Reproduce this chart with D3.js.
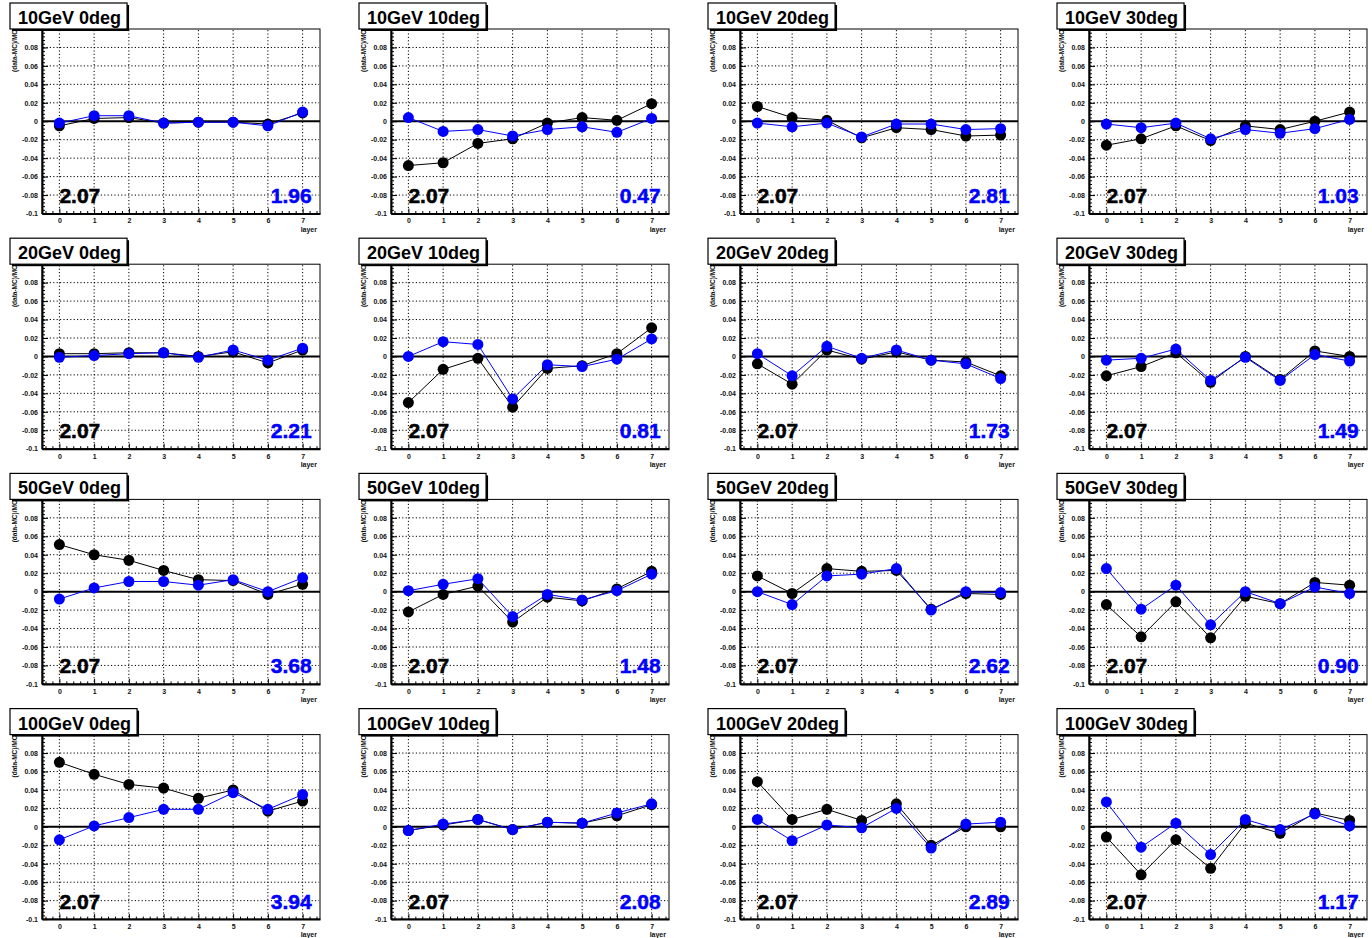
<!DOCTYPE html>
<html>
<head>
<meta charset="utf-8">
<script src="https://cdn.jsdelivr.net/npm/d3@7"></script>
<style>
  html, body { margin: 0; padding: 0; background: #fff; }
  svg { display: block; font-family: "Liberation Sans", Arial, Helvetica, sans-serif; }
  .tick text { font-size: 7px; font-weight: bold; fill: #111; }
</style>
</head>
<body>
<div id="chart"></div>
<script>
// panel titles, row by row
const titles = [
  '10GeV 0deg', '10GeV 10deg', '10GeV 20deg', '10GeV 30deg',
  '20GeV 0deg', '20GeV 10deg', '20GeV 20deg', '20GeV 30deg',
  '50GeV 0deg', '50GeV 10deg', '50GeV 20deg', '50GeV 30deg',
  '100GeV 0deg', '100GeV 10deg', '100GeV 20deg', '100GeV 30deg'
];
const layers = [0, 1, 2, 3, 4, 5, 6, 7];

// (data-MC)/MC per layer, black series
const blackSeries = [
  [-0.005, 0.003, 0.004, -0.002, -0.001, -0.001, -0.003, 0.009],
  [-0.048, -0.045, -0.024, -0.019, -0.002, 0.004, 0.001, 0.019],
  [0.016, 0.004, 0.001, -0.018, -0.007, -0.009, -0.016, -0.015],
  [-0.026, -0.019, -0.005, -0.021, -0.005, -0.009, 0.000, 0.010],
  [0.003, 0.003, 0.004, 0.004, 0.000, 0.005, -0.007, 0.007],
  [-0.050, -0.014, -0.002, -0.055, -0.013, -0.010, 0.003, 0.031],
  [-0.008, -0.030, 0.007, -0.003, 0.005, -0.004, -0.006, -0.021],
  [-0.021, -0.011, 0.004, -0.028, 0.000, -0.025, 0.006, 0.000],
  [0.051, 0.040, 0.034, 0.023, 0.013, 0.012, -0.003, 0.008],
  [-0.022, -0.003, 0.006, -0.033, -0.006, -0.010, 0.003, 0.022],
  [0.017, -0.002, 0.025, 0.022, 0.023, -0.019, -0.002, -0.003],
  [-0.014, -0.049, -0.011, -0.050, -0.005, -0.013, 0.010, 0.007],
  [0.070, 0.057, 0.046, 0.042, 0.031, 0.040, 0.017, 0.028],
  [-0.004, 0.002, 0.008, -0.003, 0.005, 0.004, 0.012, 0.024],
  [0.049, 0.008, 0.019, 0.007, 0.025, -0.020, 0.000, 0.000],
  [-0.011, -0.052, -0.014, -0.045, 0.004, -0.007, 0.015, 0.007]
];

// blue series
const blueSeries = [
  [-0.002, 0.006, 0.006, -0.002, -0.001, -0.001, -0.005, 0.010],
  [0.004, -0.011, -0.009, -0.016, -0.009, -0.006, -0.012, 0.003],
  [-0.002, -0.006, -0.002, -0.017, -0.003, -0.003, -0.009, -0.008],
  [-0.003, -0.007, -0.002, -0.019, -0.009, -0.013, -0.008, 0.002],
  [-0.001, 0.001, 0.003, 0.004, -0.001, 0.007, -0.004, 0.009],
  [0.000, 0.016, 0.013, -0.046, -0.009, -0.011, -0.003, 0.019],
  [0.003, -0.021, 0.011, -0.002, 0.007, -0.004, -0.008, -0.024],
  [-0.004, -0.002, 0.008, -0.026, -0.001, -0.026, 0.002, -0.005],
  [-0.008, 0.004, 0.011, 0.011, 0.007, 0.013, 0.000, 0.015],
  [0.001, 0.008, 0.014, -0.027, -0.003, -0.009, 0.001, 0.019],
  [0.000, -0.014, 0.017, 0.019, 0.025, -0.020, 0.000, -0.001],
  [0.025, -0.019, 0.007, -0.036, 0.000, -0.013, 0.005, -0.002],
  [-0.014, 0.001, 0.010, 0.019, 0.019, 0.037, 0.019, 0.035],
  [-0.004, 0.003, 0.008, -0.003, 0.005, 0.004, 0.015, 0.025],
  [0.008, -0.015, 0.002, -0.001, 0.020, -0.023, 0.003, 0.005],
  [0.027, -0.022, 0.004, -0.030, 0.008, -0.003, 0.014, 0.001]
];

const blackLabels = Array(16).fill('2.07');
const blueLabels = [
  '1.96', '0.47', '2.81', '1.03',
  '2.21', '0.81', '1.73', '1.49',
  '3.68', '1.48', '2.62', '0.90',
  '3.94', '2.08', '2.89', '1.17'
];

const yMajor = d3.range(-0.1, 0.1001, 0.02).map((v) => +v.toFixed(3));
const yMinor = d3.range(-0.1, 0.1001, 0.004).map((v) => +v.toFixed(3));
const xMinor = d3.range(-0.4, 7.41, 0.2).map((v) => +v.toFixed(2));

const width = 1372;
const height = 938;
const colStep = 349;
const rowStep = 235.2;
const frame = { left: 42, right: 320, top: 29, bottom: 213.5 };

const svg = d3.select('#chart').append('svg').attr('width', width).attr('height', height);
svg.append('rect').attr('width', width).attr('height', height).attr('fill', '#fff');

const x = d3.scaleLinear().domain([-0.5, 7.5]).range([frame.left, frame.right]);
const y = d3.scaleLinear().domain([-0.1, 0.1]).range([frame.bottom, frame.top]);
const fmtY = (v) => String(+v.toFixed(2));

titles.forEach((title, i) => {
  const col = i % 4;
  const row = Math.floor(i / 4);
  const g = svg.append('g').attr('transform', `translate(${col * colStep},${row * rowStep})`);

  // frame
  g.append('rect')
    .attr('x', frame.left).attr('y', frame.top)
    .attr('width', frame.right - frame.left).attr('height', frame.bottom - frame.top)
    .attr('fill', '#fff').attr('stroke', '#000').attr('stroke-width', 1);

  // dotted grid
  const grid = g.append('g').attr('stroke', '#000').attr('stroke-width', 1).attr('stroke-dasharray', '1.2,2.2');
  grid.selectAll('line.vg').data(layers).join('line')
    .attr('x1', (d) => x(d)).attr('x2', (d) => x(d))
    .attr('y1', frame.top + 1).attr('y2', frame.bottom - 1);
  grid.selectAll('line.hg').data(yMajor.filter((v) => Math.abs(v) < 0.099 && v !== 0)).join('line')
    .attr('x1', frame.left + 1).attr('x2', frame.right - 1)
    .attr('y1', (d) => y(d)).attr('y2', (d) => y(d));

  // zero line
  g.append('line')
    .attr('x1', frame.left).attr('x2', frame.right)
    .attr('y1', y(0)).attr('y2', y(0))
    .attr('stroke', '#000').attr('stroke-width', 2);

  // axes, ticks pointing inward
  const xAxis = g.append('g').attr('transform', `translate(0,${frame.bottom})`)
    .call(d3.axisBottom(x).tickValues(layers).tickSizeInner(-5).tickSizeOuter(0).tickPadding(5).tickFormat(d3.format('d')));
  xAxis.select('.domain').attr('stroke-width', 2);
  g.append('g').attr('transform', `translate(0,${frame.bottom})`)
    .call(d3.axisBottom(x).tickValues(xMinor.filter((v) => !Number.isInteger(v))).tickSizeInner(-2.5).tickSizeOuter(0).tickFormat(''))
    .call((a) => a.select('.domain').remove());

  const yAxis = g.append('g').attr('transform', `translate(${frame.left},0)`)
    .call(d3.axisLeft(y).tickValues(yMajor.filter((v) => v < 0.099)).tickSizeInner(-6).tickSizeOuter(0).tickPadding(4).tickFormat(fmtY));
  yAxis.select('.domain').attr('stroke-width', 2);
  g.append('g').attr('transform', `translate(${frame.left},0)`)
    .call(d3.axisLeft(y).tickValues(yMinor).tickSizeInner(-3).tickSizeOuter(0).tickFormat(''))
    .call((a) => a.select('.domain').remove());
  g.selectAll('.tick line').attr('stroke', '#000').attr('stroke-width', 1);

  // axis titles
  g.append('text')
    .attr('transform', `translate(17,${frame.top + 1}) rotate(-90)`)
    .attr('text-anchor', 'end')
    .attr('font-size', 6.5).attr('font-weight', 'bold').attr('fill', '#111')
    .text('(data-MC)/MC');
  g.append('text')
    .attr('x', frame.right - 3).attr('y', 231.5)
    .attr('text-anchor', 'end')
    .attr('font-size', 7).attr('font-weight', 'bold').attr('fill', '#111')
    .text('layer');

  // series
  const line = d3.line().x((d, k) => x(layers[k])).y((d) => y(d));
  [[blackSeries[i], '#000'], [blueSeries[i], '#0000ff']].forEach(([vals, color]) => {
    g.append('path').attr('d', line(vals)).attr('fill', 'none').attr('stroke', color).attr('stroke-width', 1);
    g.selectAll(null).data(vals).join('circle')
      .attr('cx', (d, k) => x(layers[k])).attr('cy', (d) => y(d))
      .attr('r', 5.5).attr('fill', color);
  });

  // numbers
  g.append('text').attr('x', x(0)).attr('y', 203)
    .attr('font-size', 21).attr('font-weight', 'bold').attr('fill', '#000')
    .attr('stroke', '#000').attr('stroke-width', 0.5)
    .text(blackLabels[i]);
  g.append('text').attr('x', x(7) + 9).attr('y', 203)
    .attr('text-anchor', 'end')
    .attr('font-size', 21).attr('font-weight', 'bold').attr('fill', '#0000ff')
    .attr('stroke', '#0000ff').attr('stroke-width', 0.5)
    .text(blueLabels[i]);

  // title box
  const tg = g.append('g');
  const shadow = tg.append('rect').attr('fill', '#000');
  const box = tg.append('rect').attr('fill', '#fff').attr('stroke', '#000').attr('stroke-width', 1.2);
  const t = tg.append('text').attr('x', 18).attr('y', 24)
    .attr('font-size', 18).attr('font-weight', 'bold').attr('fill', '#000')
    .text(title);
  const tw = t.node().getComputedTextLength();
  box.attr('x', 10).attr('y', 3).attr('width', tw + 14).attr('height', 26);
  shadow.attr('x', 12).attr('y', 5).attr('width', tw + 14).attr('height', 26);
});
</script>
</body>
</html>
